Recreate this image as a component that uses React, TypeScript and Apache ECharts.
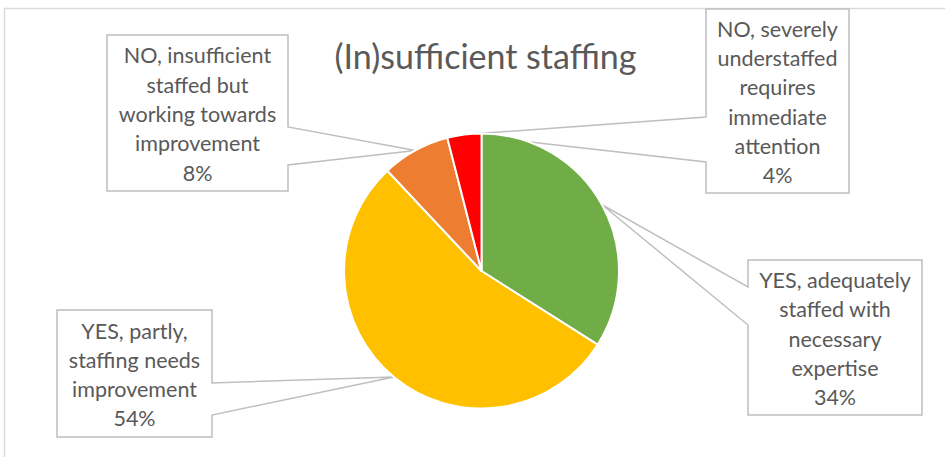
import React, { useEffect, useRef } from "react";
import * as echarts from "echarts";

const titleText = "(In)sufficient staffing";
const categories = [
  "YES, adequately\nstaffed with\nnecessary\nexpertise",
  "YES, partly,\nstaffing needs\nimprovement",
  "NO, insufficient\nstaffed but\nworking towards\nimprovement",
  "NO, severely\nunderstaffed\nrequires\nimmediate\nattention",
];
const values = [34, 54, 8, 4];
const colors = ["#70AD47", "#FFC000", "#ED7D31", "#FF0000"];

// callout boxes: [x0, y0, x1, y1], wedge side and wedge base (y range)
const boxes = [
  { r: [748, 260, 922, 415], side: "left", b: [287, 325] },
  { r: [57, 310, 212, 437], side: "right", b: [383, 415] },
  { r: [107, 35, 288, 191], side: "right", b: [127, 165] },
  { r: [706, 9, 849, 193], side: "left", b: [117, 162] },
];

const FONT = "Lato, 'Open Sans', sans-serif";
const GREY = "#595959";

export default function App() {
  const ref = useRef<HTMLDivElement>(null);
  useEffect(() => {
    if (!ref.current) return;
    const chart = echarts.init(ref.current, null, { renderer: "svg" });
    chart.setOption({
      animation: false,
      backgroundColor: "#ffffff",
      title: {
        text: titleText,
        left: 480.5,
        top: 33,
        textAlign: "center",
        textStyle: { fontFamily: FONT, fontSize: 34, fontWeight: "normal", color: GREY },
      },
      series: [
        {
          type: "pie",
          center: [481.5, 271],
          radius: 137.5,
          startAngle: 90,
          clockwise: true,
          avoidLabelOverlap: false,
          emphasis: { disabled: true },
          itemStyle: { borderColor: "#ffffff", borderWidth: 2 },
          label: {
            show: true,
            position: "outside",
            formatter: (p: any) => `${p.name}\n${p.percent}%`,
            fontFamily: FONT,
            fontSize: 21.5,
            lineHeight: 29.3,
            color: GREY,
            align: "center",
          },
          labelLine: { show: false },
          labelLayout: (p: any) => {
            const b = boxes[p.dataIndex].r;
            return {
              x: (b[0] + b[2]) / 2,
              y: (b[1] + b[3]) / 2 + 1,
              align: "center",
              verticalAlign: "middle",
            };
          },
          data: categories.map((c, i) => ({
            name: c,
            value: values[i],
            itemStyle: { color: colors[i] },
          })),
        },
      ],
    });

    const data = (chart as any).getModel().getSeriesByIndex(0).getData();
    const graphics: any[] = [
      {
        type: "rect",
        shape: { x: 4.5, y: 8.5, width: 1200, height: 1200 },
        style: { fill: "none", stroke: "#d9d9d9", lineWidth: 1.5 },
        z: -10,
      },
    ];
    boxes.forEach((bx, i) => {
      const l = data.getItemLayout(i);
      const mid = (l.startAngle + l.endAngle) / 2;
      const ax = l.cx + l.r * Math.cos(mid);
      const ay = l.cy + l.r * Math.sin(mid);
      const [x0, y0, x1, y1] = bx.r;
      const [b0, b1] = bx.b;
      const pts =
        bx.side === "right"
          ? [[x0, y0], [x1, y0], [x1, b0], [ax, ay], [x1, b1], [x1, y1], [x0, y1]]
          : [[x0, y0], [x1, y0], [x1, y1], [x0, y1], [x0, b1], [ax, ay], [x0, b0]];
      graphics.push({
        type: "polygon",
        shape: { points: pts },
        style: { fill: "#ffffff", stroke: "#bfbfbf", lineWidth: 1.5 },
        z: 0,
      });
    });
    chart.setOption({ graphic: graphics });
    return () => chart.dispose();
  }, []);
  return (
    <div
      ref={ref}
      style={{ position: "absolute", left: 0, top: 0, width: 945, height: 457 }}
    />
  );
}
